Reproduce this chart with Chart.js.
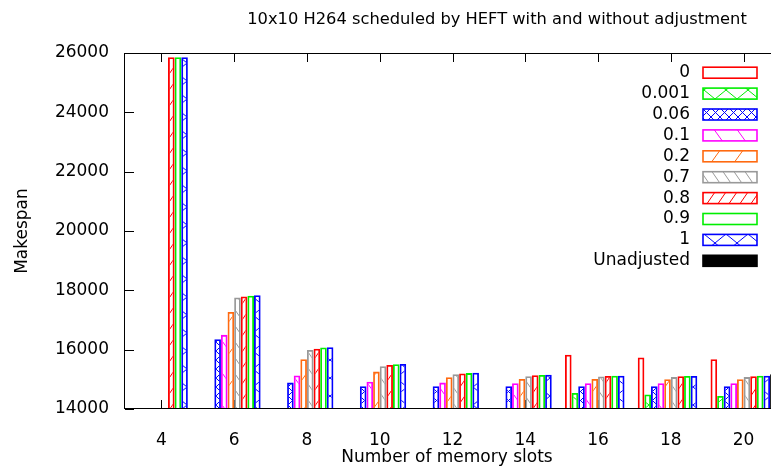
<!DOCTYPE html>
<html><head><meta charset="utf-8">
<script src="https://cdn.jsdelivr.net/npm/chart.js@4/dist/chart.umd.min.js"></script>
<style>
html,body{margin:0;padding:0;background:#fff;overflow:hidden}
#wrap{width:771px;height:470px;overflow:hidden;position:relative;background:#fff}
canvas{display:block}
</style></head>
<body><div id="wrap"><canvas id="c" width="790" height="470"></canvas></div>
<script>
// ---- data ----
const categories = ['4','6','8','10','12','14','16','18','20'];
const seriesNames = ['0','0.001','0.06','0.1','0.2','0.7','0.8','0.9','1','Unadjusted'];
const s_0      = [null, null, null, null, null, null, 15830, 15740, 15680];
const s_0001   = [null, null, null, null, null, null, 14540, 14490, 14440];
const s_006    = [null, 16350, 14890, 14770, 14770, 14770, 14770, 14770, 14770];
const s_01     = [null, 16500, 15130, 14920, 14890, 14870, 14870, 14870, 14870];
const s_02     = [null, 17270, 15680, 15260, 15070, 15015, 15015, 15005, 15005];
const s_07     = [null, 17760, 15990, 15445, 15175, 15105, 15095, 15075, 15075];
const s_08     = [25860, 17790, 16030, 15485, 15195, 15140, 15115, 15105, 15105];
const s_09     = [25860, 17815, 16075, 15510, 15210, 15150, 15125, 15115, 15125];
const s_1      = [25860, 17835, 16080, 15515, 15220, 15155, 15125, 15115, 15125];
const s_unadj  = [null, null, null, null, null, null, null, null, 15175];
const yTickValues = [14000, 16000, 18000, 20000, 22000, 24000, 26000];
const titleText = '10x10 H264 scheduled by HEFT with and without adjustment';
const xTitleText = 'Number of memory slots';
const yTitleText = 'Makespan';

// ---- styling ----
const FONT = '"DejaVu Sans", sans-serif';
const canvas = document.getElementById('c');
const mainCtx = canvas.getContext('2d');

function makePattern(color, W, H, back, fwd) {
  const t = document.createElement('canvas');
  t.width = W; t.height = H;
  const c = t.getContext('2d');
  c.strokeStyle = color; c.lineWidth = 1;
  c.beginPath();
  for (let k = -1; k <= 1; k++) {
    if (back) { c.moveTo(k * W, 0); c.lineTo(k * W + W, H); }
    if (fwd)  { c.moveTo(k * W, H); c.lineTo(k * W + W, 0); }
  }
  c.stroke();
  return mainCtx.createPattern(t, 'repeat');
}
const RED = '#ff0000', GREEN = '#00ee00', BLUE = '#0000ff', MAG = '#ff00ff',
      ORANGE = '#ff6a10', GRAY = '#999999', BLACK = '#000000';
const EMPTY = 'rgba(0,0,0,0)';
const styles = [
  {c: RED,    bg: EMPTY},
  {c: GREEN,  bg: makePattern(GREEN, 22, 18, true, true)},
  {c: BLUE,   bg: makePattern(BLUE, 9, 9, true, true)},
  {c: MAG,    bg: makePattern(MAG, 23, 32, true, false)},
  {c: ORANGE, bg: makePattern(ORANGE, 23, 32, false, true)},
  {c: GRAY,   bg: makePattern(GRAY, 11, 16, true, false)},
  {c: RED,    bg: makePattern(RED, 11, 16, false, true)},
  {c: GREEN,  bg: EMPTY},
  {c: BLUE,   bg: makePattern(BLUE, 22, 18, true, true)},
  {c: BLACK,  bg: BLACK}
];
const seriesData = [s_0, s_0001, s_006, s_01, s_02, s_07, s_08, s_09, s_1, s_unadj];

const datasets = seriesData.map((d, i) => ({
  label: seriesNames[i],
  data: d,
  backgroundColor: styles[i].bg,
  borderColor: styles[i].c,
  borderWidth: 1.8,
  borderSkipped: 'start',
  categoryPercentage: 10 / 11,
  barPercentage: 1
}));

const gnuplotLook = {
  id: 'gnuplotLook',
  beforeDatasetsDraw(chart) {
    const {ctx, chartArea: a, scales: {x, y}} = chart;
    ctx.save();
    ctx.strokeStyle = '#000'; ctx.lineWidth = 1;
    ctx.beginPath();
    yTickValues.forEach(v => {
      const py = Math.round(y.getPixelForValue(v)) + 0.5;
      ctx.moveTo(a.left, py); ctx.lineTo(a.left + 9, py);
      ctx.moveTo(a.right, py); ctx.lineTo(a.right - 9, py);
    });
    categories.forEach((c, i) => {
      const px = Math.round(x.getPixelForValue(i)) + 0.5;
      ctx.moveTo(px, a.top); ctx.lineTo(px, a.top + 9);
      ctx.moveTo(px, a.bottom); ctx.lineTo(px, a.bottom - 9);
    });
    ctx.stroke();
    ctx.restore();
  },
  afterDatasetsDraw(chart) {
    const {ctx, chartArea: a} = chart;
    ctx.save();
    ctx.strokeStyle = '#000'; ctx.lineWidth = 1;
    ctx.strokeRect(a.left - 0.5, a.top + 0.5, a.right - a.left + 1, a.bottom - a.top - 1);
    ctx.restore();
  },
  afterDraw(chart) {
    const {ctx, chartArea: a} = chart;
    ctx.save();
    ctx.fillStyle = '#000';
    ctx.textBaseline = 'middle';
    // title
    ctx.font = '16.3px ' + FONT;
    ctx.textAlign = 'center';
    ctx.fillText(titleText, 497, 20);
    // x axis title
    ctx.font = '17px ' + FONT;
    ctx.fillText(xTitleText, 447, 458);
    // legend
    const boxX = 703, boxW = 54, boxH = 11, row0 = 72.7, step = 20.9, textRight = 690;
    chart.data.datasets.forEach((ds, i) => {
      const cy = row0 + i * step;
      ctx.fillStyle = ds.backgroundColor;
      ctx.fillRect(boxX, cy - boxH / 2, boxW, boxH);
      ctx.strokeStyle = ds.borderColor; ctx.lineWidth = 1.6;
      ctx.strokeRect(boxX, cy - boxH / 2, boxW, boxH);
      ctx.fillStyle = '#000';
      ctx.textAlign = 'right';
      ctx.font = '17px ' + FONT;
      ctx.fillText(ds.label, textRight, cy);
    });
    ctx.restore();
  }
};

new Chart(canvas, {
  type: 'bar',
  data: { labels: categories, datasets },
  plugins: [gnuplotLook],
  options: {
    responsive: false,
    devicePixelRatio: 1,
    animation: false,
    events: [],
    layout: { padding: { top: 53, right: 10, left: 0, bottom: 0 } },
    plugins: { legend: { display: false }, title: { display: false }, tooltip: { enabled: false } },
    scales: {
      x: {
        type: 'category',
        grid: { display: false },
        border: { display: false },
        ticks: { color: '#000', font: { family: FONT, size: 17 }, padding: 13, maxRotation: 0, autoSkip: false },
        afterFit(s) { s.height = 61; }
      },
      y: {
        min: 14000, max: 26000,
        grid: { display: false },
        border: { display: false },
        afterBuildTicks(s) { s.ticks = yTickValues.map(v => ({ value: v })); },
        ticks: { color: '#000', font: { family: FONT, size: 17 }, padding: 8,
                 callback: v => String(v) },
        title: { display: true, text: yTitleText, color: '#000', font: { family: FONT, size: 17 },
                 padding: { top: 12, bottom: 0 } },
        afterFit(s) { s.width = 125; }
      }
    }
  }
});
</script>
</body></html>
